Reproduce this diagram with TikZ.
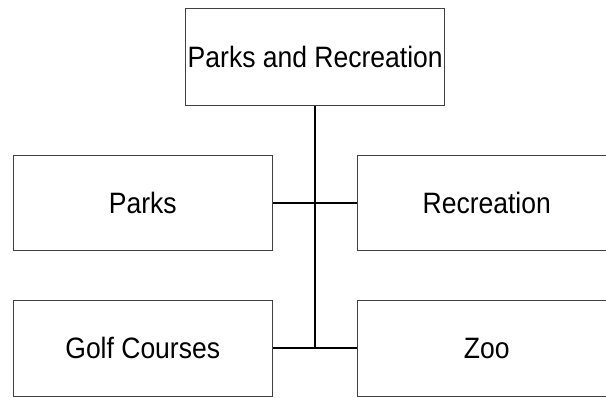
\documentclass[tikz,border=0pt]{standalone}
\usepackage{fontspec}
\setmainfont{Liberation Sans}[FakeStretch=0.9]
\begin{document}
\begin{tikzpicture}[x=0.75pt,y=-0.75pt,
  box/.style={draw=black!75,line width=0.75pt,rectangle,inner sep=0pt,
    font=\fontsize{22.1}{26}\selectfont,minimum width=194pt},
  link/.style={draw=black,line width=1.2pt}]
\useasboundingbox (0,0) rectangle (606,397);
\clip (0,0) rectangle (606,397);
\fill[white] (0,0) rectangle (606,397);
\node[box,minimum height=73.1pt] (top) at (315.25,56.75) {Parks and Recreation};
\node[box,minimum height=71.6pt] (parks) at (142.75,203.25) {Parks};
\node[box,minimum height=71.6pt] (rec) at (486.75,203.25) {Recreation};
\node[box,minimum height=72pt] (golf) at (142.75,348.25) {Golf Courses};
\node[box,minimum height=72pt] (zoo) at (486.75,348.25) {Zoo};
\draw[link] (parks.east) -- (rec.west);
\draw[link] (golf.east) -- (zoo.west);
\draw[link] (top.south) -- (top.south |- golf.east);
\end{tikzpicture}
\end{document}
